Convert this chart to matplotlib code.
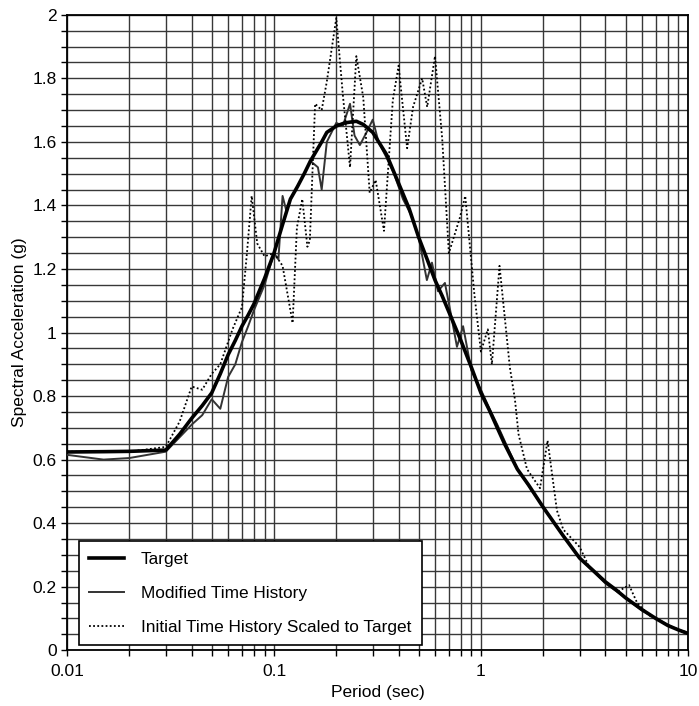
import numpy as np
import matplotlib
matplotlib.use("Agg")
import matplotlib.pyplot as plt
from matplotlib.ticker import FixedLocator, MultipleLocator, NullFormatter

plt.rcParams['font.family'] = ['Liberation Sans', 'DejaVu Sans']

# Target spectrum
t_target = [0.01, 0.015, 0.02, 0.03, 0.035, 0.04, 0.045, 0.05, 0.055, 0.06, 0.065, 0.07,
            0.075, 0.08, 0.09, 0.1, 0.11, 0.12, 0.13, 0.14, 0.15, 0.17, 0.18, 0.2, 0.22,
            0.25, 0.27, 0.3, 0.35, 0.4, 0.45, 0.5, 0.55, 0.6, 0.65, 0.7, 0.8, 0.9, 1.0,
            1.1, 1.2, 1.3, 1.5, 1.7, 2, 2.5, 3, 3.5, 4, 4.5, 5, 6, 7, 8, 9, 10]
sa_target = [0.624, 0.625, 0.626, 0.63, 0.68, 0.73, 0.77, 0.81, 0.87, 0.93, 0.975, 1.02,
             1.055, 1.09, 1.17, 1.25, 1.34, 1.42, 1.46, 1.50, 1.54, 1.60, 1.63, 1.65, 1.66,
             1.665, 1.655, 1.63, 1.56, 1.47, 1.39, 1.30, 1.23, 1.165, 1.115, 1.065, 0.975,
             0.89, 0.81, 0.755, 0.70, 0.65, 0.57, 0.52, 0.45, 0.36, 0.29, 0.25, 0.215, 0.19,
             0.165, 0.128, 0.10, 0.078, 0.064, 0.053]

# Modified time history
t_mod = [0.01, 0.015, 0.02, 0.03, 0.04, 0.045, 0.05, 0.055, 0.06, 0.065, 0.07, 0.075, 0.08,
         0.09, 0.1, 0.105, 0.11, 0.115, 0.12, 0.135, 0.15, 0.163, 0.17, 0.18, 0.2, 0.215,
         0.233, 0.245, 0.26, 0.28, 0.3, 0.32, 0.35, 0.38, 0.42, 0.46, 0.5, 0.548, 0.58,
         0.62, 0.67, 0.72, 0.766, 0.82, 0.9, 1.0, 1.1, 1.2, 1.5, 2.0, 3.0, 4, 5, 6, 8, 10]
sa_mod = [0.615, 0.60, 0.605, 0.625, 0.71, 0.74, 0.79, 0.76, 0.86, 0.90, 0.97, 1.02, 1.07,
          1.15, 1.25, 1.23, 1.43, 1.38, 1.42, 1.48, 1.54, 1.52, 1.45, 1.60, 1.66, 1.65,
          1.72, 1.62, 1.59, 1.63, 1.67, 1.60, 1.55, 1.50, 1.42, 1.37, 1.30, 1.165, 1.22,
          1.13, 1.156, 1.05, 0.955, 1.02, 0.88, 0.82, 0.76, 0.71, 0.57, 0.45, 0.29, 0.21,
          0.165, 0.125, 0.08, 0.05]

# Initial time history scaled to target
t_init = [0.01, 0.02, 0.03, 0.035, 0.04, 0.045, 0.05, 0.055, 0.063, 0.07, 0.074, 0.078,
          0.083, 0.09, 0.1, 0.11, 0.123, 0.129, 0.137, 0.145, 0.149, 0.158, 0.17, 0.18,
          0.2, 0.215, 0.233, 0.25, 0.27, 0.29, 0.31, 0.34, 0.375, 0.4, 0.44, 0.47, 0.52,
          0.55, 0.6, 0.65, 0.7, 0.79, 0.84, 0.93, 1.0, 1.08, 1.13, 1.23, 1.38, 1.46, 1.52,
          1.67, 1.93, 2.1, 2.33, 2.5, 3.0, 3.35, 4.0, 4.6, 5.2, 5.7, 6.5, 8, 10]
sa_init = [0.625, 0.625, 0.64, 0.72, 0.83, 0.82, 0.87, 0.90, 1.01, 1.08, 1.25, 1.43,
           1.28, 1.24, 1.25, 1.21, 1.03, 1.33, 1.42, 1.27, 1.29, 1.72, 1.70, 1.79,
           1.99, 1.75, 1.52, 1.87, 1.74, 1.44, 1.48, 1.32, 1.73, 1.84, 1.58, 1.71, 1.80,
           1.71, 1.87, 1.61, 1.25, 1.36, 1.43, 1.12, 0.94, 1.01, 0.90, 1.21, 0.89, 0.79, 0.68,
           0.57, 0.51, 0.66, 0.44, 0.38, 0.325, 0.26, 0.215, 0.185, 0.205, 0.148, 0.11, 0.078, 0.055]

fig = plt.figure(figsize=(6.99, 7.06), dpi=100)
ax = fig.add_axes([0.096, 0.079, 0.888, 0.9])

ax.semilogx(t_target, sa_target, color='black', lw=2.6, label='Target', zorder=4)
ax.semilogx(t_mod, sa_mod, color='0.2', lw=1.4, label='Modified Time History', zorder=3)
ax.semilogx(t_init, sa_init, color='black', lw=1.3, ls=(0, (1, 1.3)),
            label='Initial Time History Scaled to Target', zorder=3)

ax.set_xlim(0.01, 10)
ax.set_ylim(0, 2)
ax.yaxis.set_minor_locator(MultipleLocator(0.05))
ax.yaxis.set_major_locator(FixedLocator(np.arange(0, 2.01, 0.2)))
ax.set_yticklabels(['0', '0.2', '0.4', '0.6', '0.8', '1', '1.2', '1.4', '1.6', '1.8', '2'])
ax.xaxis.set_major_locator(FixedLocator([0.01, 0.1, 1, 10]))
ax.set_xticklabels(['0.01', '0.1', '1', '10'])
ax.xaxis.set_minor_formatter(NullFormatter())

ax.grid(True, which='both', color='0.22', lw=1.0)
ax.tick_params(which='both', direction='out', length=4, width=1.0, labelsize=12.5, colors='black')
ax.tick_params(axis='x', pad=6)
for s in ax.spines.values():
    s.set_linewidth(1.3)

ax.set_xlabel('Period (sec)', fontsize=12.5)
ax.set_ylabel('Spectral Acceleration (g)', fontsize=12.5)

leg = ax.legend(loc='lower left', bbox_to_anchor=(0.019, 0.008), borderaxespad=0,
                fontsize=12.4, fancybox=False, framealpha=1, edgecolor='black',
                handlelength=2.0, handletextpad=1.0, labelspacing=1.1, borderpad=0.6)
leg.get_frame().set_linewidth(1.2)

fig.savefig('out.png', dpi=100)
